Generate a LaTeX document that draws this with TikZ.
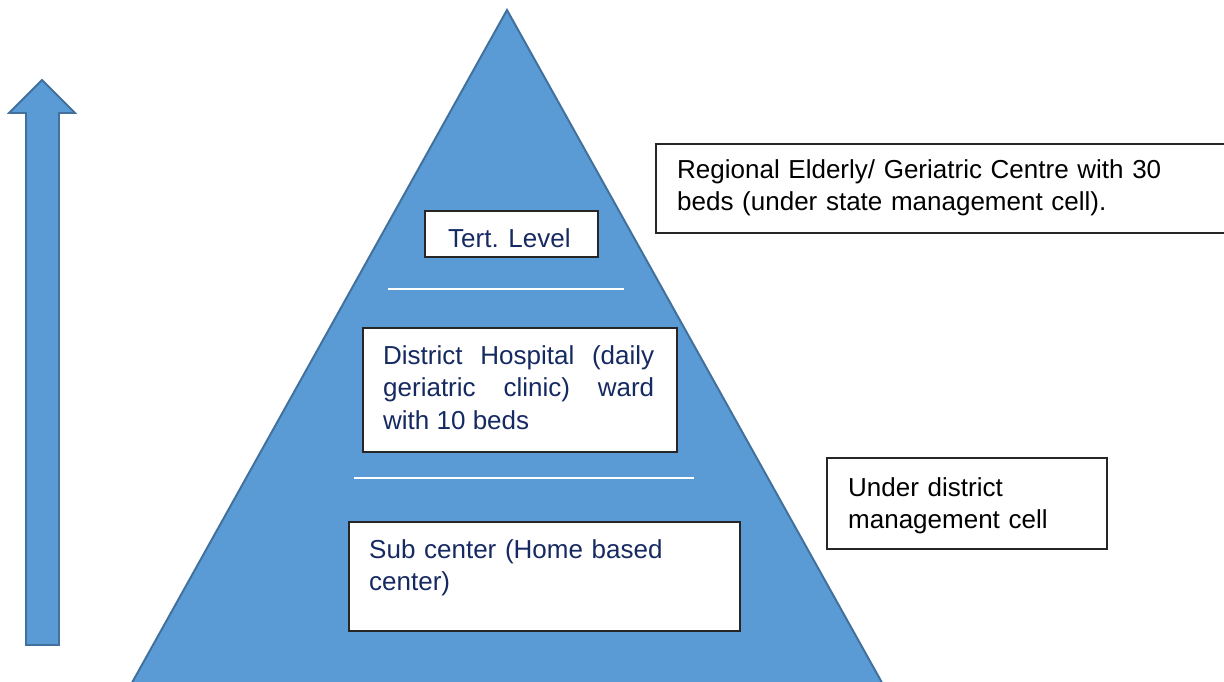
\documentclass[tikz,border=0pt]{standalone}
\usepackage{fontspec}
\setmainfont{Liberation Sans}
\definecolor{pyrfill}{RGB}{91,155,213}
\definecolor{pyrline}{RGB}{65,113,156}
\definecolor{navytext}{RGB}{22,42,98}
\begin{document}
\begin{tikzpicture}[x=1pt,y=-1pt,
  box/.style={draw=black!85,line width=1.5pt,fill=white,rectangle,inner sep=0pt,anchor=north west},
  lbl/.style={inner sep=0pt,anchor=base west,font=\fontsize{26}{32.5}\selectfont},
  sepline/.style={draw=white,line width=1.5pt}]
\useasboundingbox (0,0) rectangle (1224,681);
\clip (0,0) rectangle (1224,681);
% pyramid
\filldraw[fill=pyrfill,draw=pyrline,line width=2pt] (507,10) -- (94.5,750) -- (919.5,750) -- cycle;
% arrow
\filldraw[fill=pyrfill,draw=pyrline,line width=1.8pt] (42,80) -- (75,113) -- (59,113) -- (59,645) -- (26,645) -- (26,113) -- (9,113) -- cycle;
% separators
\coordinate (s1a) at (388,289); \coordinate (s1b) at (624,289);
\coordinate (s2a) at (354,478); \coordinate (s2b) at (694,478);
\draw[sepline] (s1a) -- (s1b);
\draw[sepline] (s2a) -- (s2b);
% boxes
\node[box,minimum width=173pt,minimum height=46pt] (tertbox) at (424,210) {};
\node[box,minimum width=314pt,minimum height=124pt] (distbox) at (362,327) {};
\node[box,minimum width=391pt,minimum height=109pt] (subbox) at (348,521) {};
\node[box,minimum width=280pt,minimum height=91pt] (undbox) at (826,457) {};
\node[box,minimum width=600pt,minimum height=89pt] (regbox) at (655,143) {};
% texts
\node[lbl,text=navytext] (terttxt) at (448,247) {Tert. Level};
\node[lbl,text=navytext,text width=271pt,align=justify] (disttxt) at (383,364) {District Hospital (daily\linebreak geriatric clinic) ward\linebreak with 10 beds};
\node[lbl,text=navytext,text width=360pt,align=left] (subtxt) at (369,558) {Sub center (Home based\\center)};
\node[lbl,text=black,text width=250pt,align=left] (undtxt) at (848,496) {Under district\\management cell};
\node[lbl,text=black,text width=540pt,align=left] (regtxt) at (677,178) {Regional Elderly/ Geriatric Centre with 30\\beds (under state management cell).};
\end{tikzpicture}
\end{document}
